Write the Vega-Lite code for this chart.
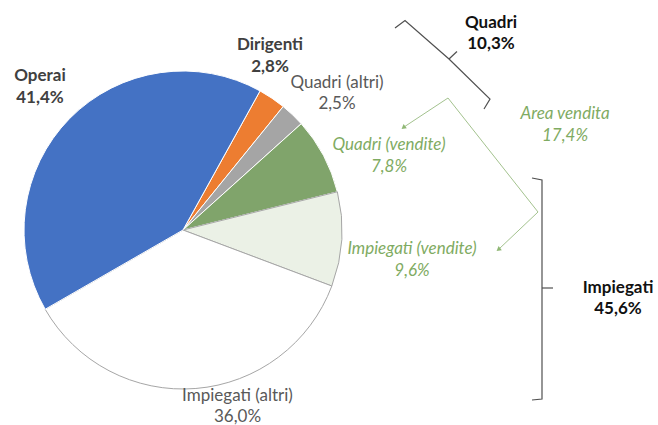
{
  "$schema": "https://vega.github.io/schema/vega-lite/v6.json",
  "width": 658,
  "height": 425,
  "autosize": {"type": "none"},
  "padding": 0,
  "background": "white",
  "config": {"view": {"stroke": null}, "font": "Lato"},
  "datasets": {
    "slices": [
      {"cat": "Dirigenti", "pct": 2.8, "ord": 1},
      {"cat": "Quadri (altri)", "pct": 2.5, "ord": 2},
      {"cat": "Quadri (vendite)", "pct": 7.8, "ord": 3},
      {"cat": "Impiegati (vendite)", "pct": 9.6, "ord": 4},
      {"cat": "Impiegati (altri)", "pct": 36.0, "ord": 5},
      {"cat": "Operai", "pct": 41.4, "ord": 6}
    ],
    "labels": [
      {"kind": "catBold", "text": "Operai\n41,4%", "x": 40, "y": 76},
      {"kind": "catBold", "text": "Dirigenti\n2,8%", "x": 270, "y": 45},
      {"kind": "catPlain", "text": "Quadri (altri)\n2,5%", "x": 337, "y": 83},
      {"kind": "sales", "text": "Quadri (vendite)\n7,8%", "x": 389, "y": 145},
      {"kind": "sales", "text": "Impiegati (vendite)\n9,6%", "x": 412, "y": 249},
      {"kind": "catPlain", "text": "Impiegati (altri)\n36,0%", "x": 237.5, "y": 395.5},
      {"kind": "total", "text": "Quadri\n10,3%", "x": 491, "y": 23},
      {"kind": "sales", "text": "Area vendita\n17,4%", "x": 565, "y": 114},
      {"kind": "total", "text": "Impiegati\n45,6%", "x": 618, "y": 288}
    ],
    "brackets": [
      {"g": "Quadri", "i": 1, "x": 395, "y": 28},
      {"g": "Quadri", "i": 2, "x": 405, "y": 20.5},
      {"g": "Quadri", "i": 3, "x": 449, "y": 59},
      {"g": "Quadri", "i": 4, "x": 490, "y": 99},
      {"g": "Quadri", "i": 5, "x": 484, "y": 109},
      {"g": "QuadriTick", "i": 1, "x": 449, "y": 59},
      {"g": "QuadriTick", "i": 2, "x": 457, "y": 51.5},
      {"g": "Impiegati", "i": 1, "x": 532, "y": 178},
      {"g": "Impiegati", "i": 2, "x": 542, "y": 180},
      {"g": "Impiegati", "i": 3, "x": 542, "y": 399},
      {"g": "Impiegati", "i": 4, "x": 532, "y": 400},
      {"g": "ImpiegatiTick", "i": 1, "x": 542, "y": 288},
      {"g": "ImpiegatiTick", "i": 2, "x": 553, "y": 288}
    ],
    "arrows": [
      {"i": 1, "x": 404, "y": 127},
      {"i": 2, "x": 448, "y": 98},
      {"i": 3, "x": 538, "y": 212},
      {"i": 4, "x": 499, "y": 249}
    ],
    "heads": [
      {"x": 404, "y": 127},
      {"x": 499, "y": 249}
    ]
  },
  "layer": [
    {
      "data": {"name": "slices"},
      "mark": {"type": "arc", "outerRadius": 159, "strokeWidth": 1},
      "encoding": {
        "x": {"datum": 183, "type": "quantitative", "scale": {"domain": [0, 658], "nice": false, "zero": false}, "axis": null},
        "y": {"datum": 230, "type": "quantitative", "scale": {"domain": [0, 425], "reverse": true, "nice": false, "zero": false}, "axis": null},
        "theta": {"field": "pct", "type": "quantitative", "stack": true, "scale": {"range": [0.506, 6.789]}},
        "order": {"field": "ord", "type": "quantitative"},
        "fill": {
          "field": "cat", "type": "nominal", "legend": null,
          "scale": {
            "domain": ["Dirigenti", "Quadri (altri)", "Quadri (vendite)", "Impiegati (vendite)", "Impiegati (altri)", "Operai"],
            "range": ["#ed7d31", "#a5a5a5", "#80a46b", "#ebf1e6", "#ffffff", "#4472c4"]
          }
        },
        "stroke": {
          "field": "cat", "type": "nominal", "legend": null,
          "scale": {
            "domain": ["Dirigenti", "Quadri (altri)", "Quadri (vendite)", "Impiegati (vendite)", "Impiegati (altri)", "Operai"],
            "range": ["#ffffff", "#ffffff", "#ffffff", "#a6a6a6", "#a6a6a6", "#ffffff"]
          }
        }
      }
    },
    {
      "data": {"name": "brackets"},
      "mark": {"type": "line", "color": "#505050", "strokeWidth": 1.2, "interpolate": "linear"},
      "encoding": {
        "x": {"field": "x", "type": "quantitative", "scale": {"domain": [0, 658], "nice": false, "zero": false}, "axis": null},
        "y": {"field": "y", "type": "quantitative", "scale": {"domain": [0, 425], "reverse": true, "nice": false, "zero": false}, "axis": null},
        "detail": {"field": "g", "type": "nominal"},
        "order": {"field": "i", "type": "quantitative"}
      }
    },
    {
      "data": {"name": "arrows"},
      "mark": {"type": "line", "color": "#a3c28e", "strokeWidth": 1},
      "encoding": {
        "x": {"field": "x", "type": "quantitative", "axis": null},
        "y": {"field": "y", "type": "quantitative", "axis": null},
        "order": {"field": "i", "type": "quantitative"}
      }
    },
    {
      "data": {"name": "heads"},
      "mark": {"type": "point", "shape": "triangle", "filled": true, "color": "#8fb774", "size": 28, "angle": 232, "opacity": 1},
      "encoding": {
        "x": {"field": "x", "type": "quantitative", "axis": null},
        "y": {"field": "y", "type": "quantitative", "axis": null}
      }
    },
    {
      "data": {"name": "labels"},
      "transform": [{"filter": "datum.kind == 'catBold'"}],
      "mark": {"type": "text", "font": "Lato", "fontSize": 17, "fontWeight": "bold", "color": "#404040", "lineBreak": "\n", "lineHeight": 22, "align": "center", "baseline": "middle"},
      "encoding": {
        "x": {"field": "x", "type": "quantitative", "axis": null},
        "y": {"field": "y", "type": "quantitative", "axis": null},
        "text": {"field": "text"}
      }
    },
    {
      "data": {"name": "labels"},
      "transform": [{"filter": "datum.kind == 'catPlain'"}],
      "mark": {"type": "text", "font": "Lato", "fontSize": 17, "color": "#595959", "lineBreak": "\n", "lineHeight": 21, "align": "center", "baseline": "middle"},
      "encoding": {
        "x": {"field": "x", "type": "quantitative", "axis": null},
        "y": {"field": "y", "type": "quantitative", "axis": null},
        "text": {"field": "text"}
      }
    },
    {
      "data": {"name": "labels"},
      "transform": [{"filter": "datum.kind == 'sales'"}],
      "mark": {"type": "text", "font": "Lato", "fontSize": 17, "fontStyle": "italic", "color": "#7fab62", "lineBreak": "\n", "lineHeight": 21.5, "align": "center", "baseline": "middle"},
      "encoding": {
        "x": {"field": "x", "type": "quantitative", "axis": null},
        "y": {"field": "y", "type": "quantitative", "axis": null},
        "text": {"field": "text"}
      }
    },
    {
      "data": {"name": "labels"},
      "transform": [{"filter": "datum.kind == 'total'"}],
      "mark": {"type": "text", "font": "Lato", "fontSize": 17, "fontWeight": "bold", "color": "#111111", "lineBreak": "\n", "lineHeight": 20.5, "align": "center", "baseline": "middle"},
      "encoding": {
        "x": {"field": "x", "type": "quantitative", "axis": null},
        "y": {"field": "y", "type": "quantitative", "axis": null},
        "text": {"field": "text"}
      }
    }
  ]
}
